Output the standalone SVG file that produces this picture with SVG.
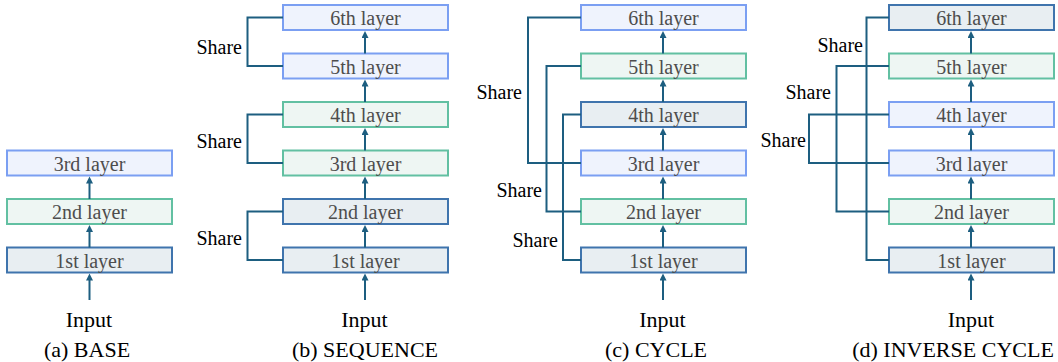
<svg xmlns="http://www.w3.org/2000/svg" width="1058" height="362" viewBox="0 0 1058 362" font-family="Liberation Serif, Times New Roman, DejaVu Serif, serif">
<defs>
<marker id="ah" markerUnits="userSpaceOnUse" markerWidth="8" markerHeight="8" refX="2" refY="3.5" orient="auto">
<path d="M0,0 L7,3.5 L0,7 z" fill="#1d5e80"/>
</marker>
</defs>
<style>
.dk{fill:#e8eef2;stroke:#3f74ad;stroke-width:2}
.gr{fill:#eef6f3;stroke:#62c0a2;stroke-width:2}
.lb{fill:#eff3fd;stroke:#7b9ff2;stroke-width:2}
.bt{font-size:20px;fill:#4d4d4d;text-anchor:middle}
.sh{font-size:20px;fill:#000;text-anchor:end}
.cap{font-size:22px;fill:#000;text-anchor:middle}
.con{fill:none;stroke:#1d5e80;stroke-width:2}
.arr{fill:none;stroke:#1d5e80;stroke-width:2;marker-end:url(#ah)}
</style>
<rect width="1058" height="362" fill="#fff"/>

<!-- Panel a -->
<g id="a-l3"><rect class="lb" x="7" y="150.5" width="165" height="25"/><text class="bt" x="89.5" y="170.5">3rd layer</text></g>
<g id="a-l2"><rect class="gr" x="7" y="199" width="165" height="25"/><text class="bt" x="89.5" y="219">2nd layer</text></g>
<g id="a-l1"><rect class="dk" x="7" y="247.5" width="165" height="25"/><text class="bt" x="89.5" y="267.5">1st layer</text></g>
<g id="a-input"><text class="cap" x="89" y="327">Input</text></g>
<g id="a-cap"><text class="cap" x="87" y="357">(a) BASE</text></g>

<!-- Panel b -->
<g id="b-l6"><rect class="lb" x="283" y="5" width="165" height="25"/><text class="bt" x="365.5" y="25">6th layer</text></g>
<g id="b-l5"><rect class="lb" x="283" y="53.5" width="165" height="25"/><text class="bt" x="365.5" y="73.5">5th layer</text></g>
<g id="b-l4"><rect class="gr" x="283" y="102" width="165" height="25"/><text class="bt" x="365.5" y="122">4th layer</text></g>
<g id="b-l3"><rect class="gr" x="283" y="150.5" width="165" height="25"/><text class="bt" x="365.5" y="170.5">3rd layer</text></g>
<g id="b-l2"><rect class="dk" x="283" y="199" width="165" height="25"/><text class="bt" x="365.5" y="219">2nd layer</text></g>
<g id="b-l1"><rect class="dk" x="283" y="247.5" width="165" height="25"/><text class="bt" x="365.5" y="267.5">1st layer</text></g>
<g id="b-input"><text class="cap" x="364.5" y="327">Input</text></g>
<g id="b-cap"><text class="cap" x="365" y="357">(b) SEQUENCE</text></g>

<!-- Panel c -->
<g id="c-l6"><rect class="lb" x="581" y="5" width="165" height="25"/><text class="bt" x="663.5" y="25">6th layer</text></g>
<g id="c-l5"><rect class="gr" x="581" y="53.5" width="165" height="25"/><text class="bt" x="663.5" y="73.5">5th layer</text></g>
<g id="c-l4"><rect class="dk" x="581" y="102" width="165" height="25"/><text class="bt" x="663.5" y="122">4th layer</text></g>
<g id="c-l3"><rect class="lb" x="581" y="150.5" width="165" height="25"/><text class="bt" x="663.5" y="170.5">3rd layer</text></g>
<g id="c-l2"><rect class="gr" x="581" y="199" width="165" height="25"/><text class="bt" x="663.5" y="219">2nd layer</text></g>
<g id="c-l1"><rect class="dk" x="581" y="247.5" width="165" height="25"/><text class="bt" x="663.5" y="267.5">1st layer</text></g>
<g id="c-input"><text class="cap" x="662.5" y="327">Input</text></g>
<g id="c-cap"><text class="cap" x="656" y="357">(c) CYCLE</text></g>

<!-- Panel d -->
<g id="d-l6"><rect class="dk" x="889" y="5" width="165" height="25"/><text class="bt" x="971.5" y="25">6th layer</text></g>
<g id="d-l5"><rect class="gr" x="889" y="53.5" width="165" height="25"/><text class="bt" x="971.5" y="73.5">5th layer</text></g>
<g id="d-l4"><rect class="lb" x="889" y="102" width="165" height="25"/><text class="bt" x="971.5" y="122">4th layer</text></g>
<g id="d-l3"><rect class="lb" x="889" y="150.5" width="165" height="25"/><text class="bt" x="971.5" y="170.5">3rd layer</text></g>
<g id="d-l2"><rect class="gr" x="889" y="199" width="165" height="25"/><text class="bt" x="971.5" y="219">2nd layer</text></g>
<g id="d-l1"><rect class="dk" x="889" y="247.5" width="165" height="25"/><text class="bt" x="971.5" y="267.5">1st layer</text></g>
<g id="d-input"><text class="cap" x="971" y="327">Input</text></g>
<g id="d-cap"><text class="cap" x="953" y="357">(d) INVERSE CYCLE</text></g>

<!-- Connectors -->
<g id="connectors">
<path class="arr" d="M89.5,300 V278.5"/>
<path class="arr" d="M89.5,247.5 V230"/>
<path class="arr" d="M89.5,199 V181.5"/>
<path class="arr" d="M365,300 V278.5"/>
<path class="arr" d="M365,247.5 V230"/>
<path class="arr" d="M365,199 V181.5"/>
<path class="arr" d="M365,150.5 V133"/>
<path class="arr" d="M365,102 V84.5"/>
<path class="arr" d="M365,53.5 V36"/>
<path class="arr" d="M663,300 V278.5"/>
<path class="arr" d="M663,247.5 V230"/>
<path class="arr" d="M663,199 V181.5"/>
<path class="arr" d="M663,150.5 V133"/>
<path class="arr" d="M663,102 V84.5"/>
<path class="arr" d="M663,53.5 V36"/>
<path class="arr" d="M971,300 V278.5"/>
<path class="arr" d="M971,247.5 V230"/>
<path class="arr" d="M971,199 V181.5"/>
<path class="arr" d="M971,150.5 V133"/>
<path class="arr" d="M971,102 V84.5"/>
<path class="arr" d="M971,53.5 V36"/>
<path class="con" d="M283,17.5 H247.5 V66 H283"/>
<path class="con" d="M283,114.5 H247.5 V163 H283"/>
<path class="con" d="M283,211.5 H247.5 V260 H283"/>
<path class="con" d="M581,17.5 H528 V163 H581"/>
<path class="con" d="M581,66 H546.5 V211.5 H581"/>
<path class="con" d="M581,114.5 H563 V260 H581"/>
<path class="con" d="M889,17.5 H866.5 V260 H889"/>
<path class="con" d="M889,66 H836.5 V211.5 H889"/>
<path class="con" d="M889,114.5 H809 V163 H889"/>
<text class="sh" x="242" y="54">Share</text>
<text class="sh" x="242" y="148">Share</text>
<text class="sh" x="242" y="245">Share</text>
<text class="sh" x="522" y="99">Share</text>
<text class="sh" x="542" y="197">Share</text>
<text class="sh" x="558" y="247">Share</text>
<text class="sh" x="863" y="52">Share</text>
<text class="sh" x="831" y="99">Share</text>
<text class="sh" x="806" y="147">Share</text>
</g>
</svg>
